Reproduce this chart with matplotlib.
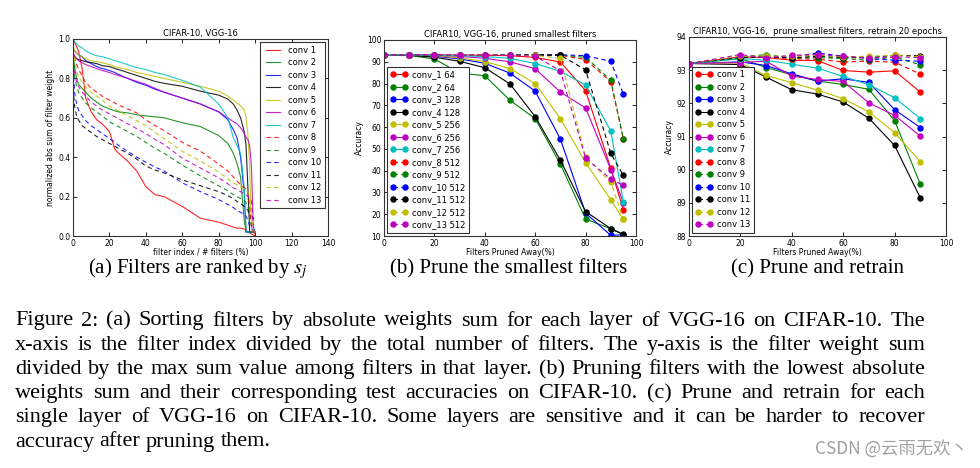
import matplotlib
matplotlib.use('Agg')
import matplotlib.pyplot as plt

# ---- data ----
rank_x = [0, 1, 2, 3, 5, 7, 10, 13, 16, 20, 23, 25, 30, 35, 40, 45, 50, 60, 70, 80,
          85, 88, 90, 92, 94, 95, 96, 97, 98, 99, 100]
rank_labels = ['conv %d' % i for i in range(1, 14)]
rank_vals = [
    [1.0, 0.98, 0.96, 0.94, 0.85, 0.70, 0.63, 0.59, 0.57, 0.53, 0.44, 0.42, 0.38, 0.33, 0.25, 0.21,
     0.20, 0.15, 0.09, 0.07, 0.055, 0.045, 0.04, 0.04, 0.035, 0.03, 0.02, 0.015, 0.01, 0.005, 0.0],
    [0.92, 0.85, 0.80, 0.77, 0.75, 0.73, 0.70, 0.68, 0.66, 0.645, 0.635, 0.63, 0.625, 0.615, 0.61, 0.605,
     0.60, 0.575, 0.555, 0.51, 0.47, 0.42, 0.37, 0.30, 0.08, 0.02, 0.02, 0.02, 0.02, 0.02, 0.02],
    [0.95, 0.94, 0.93, 0.92, 0.91, 0.89, 0.875, 0.86, 0.85, 0.84, 0.83, 0.82, 0.80, 0.78, 0.765, 0.745,
     0.73, 0.70, 0.67, 0.63, 0.59, 0.54, 0.50, 0.40, 0.22, 0.02, 0.02, 0.02, 0.02, 0.02, 0.02],
    [0.93, 0.91, 0.90, 0.895, 0.89, 0.885, 0.88, 0.875, 0.865, 0.86, 0.85, 0.845, 0.83, 0.815, 0.80, 0.785,
     0.775, 0.76, 0.735, 0.715, 0.695, 0.67, 0.64, 0.60, 0.53, 0.46, 0.25, 0.02, 0.02, 0.02, 0.02],
    [0.96, 0.94, 0.93, 0.92, 0.91, 0.90, 0.89, 0.885, 0.88, 0.87, 0.86, 0.855, 0.845, 0.83, 0.82, 0.81,
     0.80, 0.78, 0.76, 0.735, 0.71, 0.69, 0.675, 0.66, 0.64, 0.60, 0.52, 0.35, 0.03, 0.02, 0.02],
    [0.93, 0.91, 0.90, 0.89, 0.88, 0.87, 0.86, 0.85, 0.84, 0.83, 0.82, 0.815, 0.80, 0.785, 0.77, 0.75,
     0.73, 0.70, 0.67, 0.63, 0.60, 0.58, 0.57, 0.55, 0.52, 0.50, 0.49, 0.46, 0.35, 0.03, 0.02],
    [1.0, 0.985, 0.975, 0.965, 0.955, 0.94, 0.925, 0.915, 0.91, 0.90, 0.89, 0.885, 0.87, 0.855, 0.845, 0.83,
     0.82, 0.79, 0.755, 0.67, 0.60, 0.50, 0.46, 0.42, 0.25, 0.02, 0.02, 0.02, 0.02, 0.02, 0.02],
    [0.95, 0.90, 0.87, 0.85, 0.81, 0.78, 0.75, 0.73, 0.71, 0.69, 0.675, 0.665, 0.645, 0.625, 0.59, 0.56,
     0.535, 0.475, 0.43, 0.365, 0.33, 0.30, 0.28, 0.26, 0.245, 0.24, 0.22, 0.15, 0.05, 0.02, 0.01],
    [0.90, 0.80, 0.76, 0.73, 0.70, 0.675, 0.65, 0.63, 0.61, 0.58, 0.565, 0.555, 0.53, 0.505, 0.475, 0.445,
     0.42, 0.36, 0.305, 0.255, 0.23, 0.21, 0.20, 0.19, 0.18, 0.17, 0.15, 0.10, 0.05, 0.04, 0.03],
    [0.85, 0.72, 0.67, 0.64, 0.61, 0.585, 0.56, 0.54, 0.52, 0.495, 0.475, 0.46, 0.43, 0.40, 0.375, 0.35,
     0.33, 0.27, 0.225, 0.185, 0.16, 0.145, 0.13, 0.12, 0.11, 0.10, 0.08, 0.05, 0.04, 0.03, 0.03],
    [0.75, 0.65, 0.61, 0.59, 0.56, 0.545, 0.525, 0.505, 0.49, 0.47, 0.455, 0.445, 0.42, 0.39, 0.355, 0.335,
     0.32, 0.285, 0.255, 0.225, 0.205, 0.19, 0.175, 0.165, 0.15, 0.14, 0.13, 0.11, 0.10, 0.09, 0.09],
    [0.95, 0.88, 0.84, 0.81, 0.78, 0.755, 0.73, 0.71, 0.69, 0.66, 0.645, 0.635, 0.61, 0.585, 0.56, 0.525,
     0.495, 0.43, 0.38, 0.325, 0.29, 0.27, 0.26, 0.25, 0.24, 0.235, 0.22, 0.20, 0.10, 0.03, 0.02],
    [0.88, 0.82, 0.78, 0.76, 0.73, 0.71, 0.68, 0.66, 0.64, 0.62, 0.605, 0.595, 0.57, 0.545, 0.52, 0.49,
     0.465, 0.395, 0.345, 0.295, 0.265, 0.245, 0.235, 0.225, 0.215, 0.21, 0.20, 0.19, 0.18, 0.05, 0.02],
]

prune_x = [0, 10, 20, 30, 40, 50, 60, 70, 80, 90, 95]
prune_labels = ['conv_1 64', 'conv_2 64', 'conv_3 128', 'conv_4 128', 'conv_5 256', 'conv_6 256',
                'conv_7 256', 'conv_8 512', 'conv_9 512', 'conv_10 512', 'conv_11 512',
                'conv_12 512', 'conv_13 512']
prune_acc = [
    [93.3, 93.2, 93.2, 93.1, 93.0, 92.8, 92.0, 89.9, 76.7, 41.0, 22.0],
    [93.3, 92.9, 91.3, 84.8, 83.6, 72.3, 63.9, 43.0, 17.8, 13.3, 10.5],
    [93.3, 93.1, 92.6, 91.3, 89.3, 84.8, 76.5, 54.5, 20.5, 10.3, 10.6],
    [93.3, 93.0, 92.1, 90.2, 87.3, 79.8, 64.8, 44.8, 21.2, 13.4, 10.8],
    [93.3, 93.2, 92.9, 91.8, 90.1, 86.9, 80.0, 63.9, 43.7, 26.6, 17.6],
    [93.3, 93.2, 93.0, 92.5, 91.6, 90.0, 86.8, 76.1, 68.8, 40.5, 25.3],
    [93.3, 93.2, 93.1, 92.8, 92.4, 91.6, 89.2, 85.6, 79.3, 58.2, 25.5],
    [93.3, 93.3, 93.3, 93.3, 93.3, 93.2, 93.2, 93.0, 91.0, 80.8, 54.5],
    [93.3, 93.3, 93.3, 93.3, 93.3, 93.2, 93.2, 93.1, 92.0, 81.6, 54.5],
    [93.3, 93.3, 93.3, 93.3, 93.3, 93.3, 93.2, 93.2, 92.8, 90.2, 75.0],
    [93.3, 93.3, 93.3, 93.3, 93.2, 93.2, 93.1, 93.0, 86.3, 47.9, 37.8],
    [93.3, 93.3, 93.3, 93.3, 93.2, 93.1, 92.9, 91.6, 46.3, 34.6, 17.9],
    [93.3, 93.3, 93.3, 93.2, 93.1, 92.9, 92.6, 85.8, 45.7, 36.2, 33.2],
]

retrain_x = [0, 20, 30, 40, 50, 60, 70, 80, 90]
retrain_labels = ['conv %d' % i for i in range(1, 14)]
retrain_acc = [
    [93.2, 93.40, 93.38, 93.30, 93.29, 92.99, 92.94, 92.98, 92.34],
    [93.2, 93.35, 93.08, 92.86, 92.67, 92.57, 92.42, 91.48, 89.56],
    [93.2, 93.25, 93.14, 92.89, 92.67, 92.74, 92.63, 91.81, 91.27],
    [93.2, 93.17, 92.79, 92.41, 92.28, 92.04, 91.55, 90.73, 89.15],
    [93.2, 93.22, 92.84, 92.62, 92.40, 92.14, 91.74, 91.12, 90.24],
    [93.2, 93.23, 93.27, 92.82, 92.72, 92.66, 92.01, 91.64, 91.01],
    [93.2, 93.35, 93.30, 93.18, 93.06, 92.81, 92.56, 92.17, 91.54],
    [93.2, 93.40, 93.40, 93.35, 93.33, 93.25, 93.27, 93.24, 92.88],
    [93.2, 93.40, 93.47, 93.37, 93.38, 93.35, 93.30, 93.40, 93.16],
    [93.2, 93.40, 93.40, 93.40, 93.52, 93.42, 93.35, 93.30, 93.27],
    [93.2, 93.38, 93.40, 93.37, 93.42, 93.38, 93.38, 93.45, 93.43],
    [93.2, 93.42, 93.42, 93.42, 93.45, 93.40, 93.42, 93.45, 93.40],
    [93.2, 93.47, 93.37, 93.45, 93.47, 93.42, 93.37, 93.40, 93.38],
]

colors = ['r', 'g', 'b', 'k', 'y', 'm', 'c', 'r', 'g', 'b', 'k', 'y', 'm']
styles = ['-'] * 7 + ['--'] * 6

caption = [
    "Figure 2: (a) Sorting filters by absolute weights sum for each layer of VGG-16 on CIFAR-10. The",
    "x-axis is the filter index divided by the total number of filters. The y-axis is the filter weight sum",
    "divided by the max sum value among filters in that layer. (b) Pruning filters with the lowest absolute",
    "weights sum and their corresponding test accuracies on CIFAR-10. (c) Prune and retrain for each",
    "single layer of VGG-16 on CIFAR-10. Some layers are sensitive and it can be harder to recover",
    "accuracy after pruning them.",
]
subcaptions = ['(a) Filters are ranked by $s_j$', '(b) Prune the smallest filters', '(c) Prune and retrain']

# ---- figure ----
W, H = 980, 468
plt.rcParams['mathtext.fontset'] = 'stix'
fig = plt.figure(figsize=(W / 100, H / 100), dpi=100)


def box(l, t, r, b):
    return [l / W, 1 - b / H, (r - l) / W, (b - t) / H]


def style_axes(ax):
    ax.tick_params(direction='in', top=True, right=True, labelsize=5.5, length=3, width=0.6, pad=2)
    for s in ax.spines.values():
        s.set_linewidth(0.8)
        s.set_color('#333333')


def legend(ax, loc, hl):
    lg = ax.legend(loc=loc, fontsize=6, labelspacing=0.42, handlelength=hl, borderpad=0.45,
                   borderaxespad=0.35, fancybox=False, framealpha=1, numpoints=2, handletextpad=0.6)
    lg.get_frame().set_edgecolor('#333333')
    lg.get_frame().set_linewidth(0.8)


# (a)
ax = fig.add_axes(box(73, 39, 328, 236))
for i in range(13):
    ax.plot(rank_x, rank_vals[i], color=colors[i], ls=styles[i], lw=0.8, alpha=0.85,
            dashes=(4, 3) if styles[i] == '--' else (None, None), label=rank_labels[i])
ax.set_xlim(0, 140)
ax.set_ylim(0, 1.0)
ax.set_title('CIFAR-10, VGG-16', fontsize=6, pad=2)
ax.set_xlabel('filter index / # filters (%)', fontsize=5.5, labelpad=0.5)
ax.set_ylabel('normalized abs sum of filter weight', fontsize=5.5, labelpad=2)
style_axes(ax)
legend(ax, 'upper right', 2.3)

# (b)
ax = fig.add_axes(box(384, 40, 636, 236))
for i in range(13):
    ax.plot(prune_x, prune_acc[i], color=colors[i], ls=styles[i], lw=0.8, marker='o', ms=3.6,
            dashes=(4, 3) if styles[i] == '--' else (None, None), label=prune_labels[i])
ax.set_xlim(0, 100)
ax.set_ylim(10, 100)
ax.set_yticks(range(10, 101, 10))
ax.set_title('CIFAR10, VGG-16, pruned smallest filters', fontsize=6, pad=2)
ax.set_xlabel('Filters Pruned Away(%)', fontsize=5.5, labelpad=0.5)
ax.set_ylabel('Accuracy', fontsize=5.5, labelpad=2)
style_axes(ax)
legend(ax, 'lower left', 2.0)

# (c)
ax = fig.add_axes(box(689, 37, 946, 236))
for i in range(13):
    ax.plot(retrain_x, retrain_acc[i], color=colors[i], ls=styles[i], lw=0.8, marker='o', ms=3.6,
            dashes=(4, 3) if styles[i] == '--' else (None, None), label=retrain_labels[i])
ax.set_xlim(0, 100)
ax.set_ylim(88, 94)
ax.set_title('CIFAR10, VGG-16,  prune smallest filters, retrain 20 epochs', fontsize=6, pad=2)
ax.set_xlabel('Filters Pruned Away(%)', fontsize=5.5, labelpad=0.5)
ax.set_ylabel('Accuracy', fontsize=5.5, labelpad=2)
style_axes(ax)
legend(ax, 'lower left', 2.0)

# sub captions
serif = ['Liberation Serif', 'DejaVu Serif']
for xc, s in zip([198, 509, 817], subcaptions):
    fig.text(xc / W, 1 - 269 / H, s, ha='center', va='center', fontsize=15, family=serif)

# caption, justified word by word like the paper
renderer = fig.canvas.get_renderer()
x_left, x_right = 15, 925
cap_size = 16.0
for k, line in enumerate(caption):
    y = 1 - (321 + 24.2 * k) / H
    words = line.split(' ')
    texts = [fig.text(0, y, w, ha='left', va='center', fontsize=cap_size, family=serif) for w in words]
    widths = [t.get_window_extent(renderer).width for t in texts]
    if k < len(caption) - 1:
        gap = (x_right - x_left - sum(widths)) / (len(words) - 1)
    else:
        gap = cap_size * 100 / 72 * 0.25
    x = x_left
    for t, w in zip(texts, widths):
        t.set_x(x / W)
        x += w + gap

fig.text(968 / W, 1 - 449 / H, 'CSDN @云雨无欢丶', ha='right', va='center', fontsize=12.5,
         color='#a0a0a0', family=['Noto Sans CJK SC', 'DejaVu Sans'])

fig.savefig('out.png', dpi=100)
